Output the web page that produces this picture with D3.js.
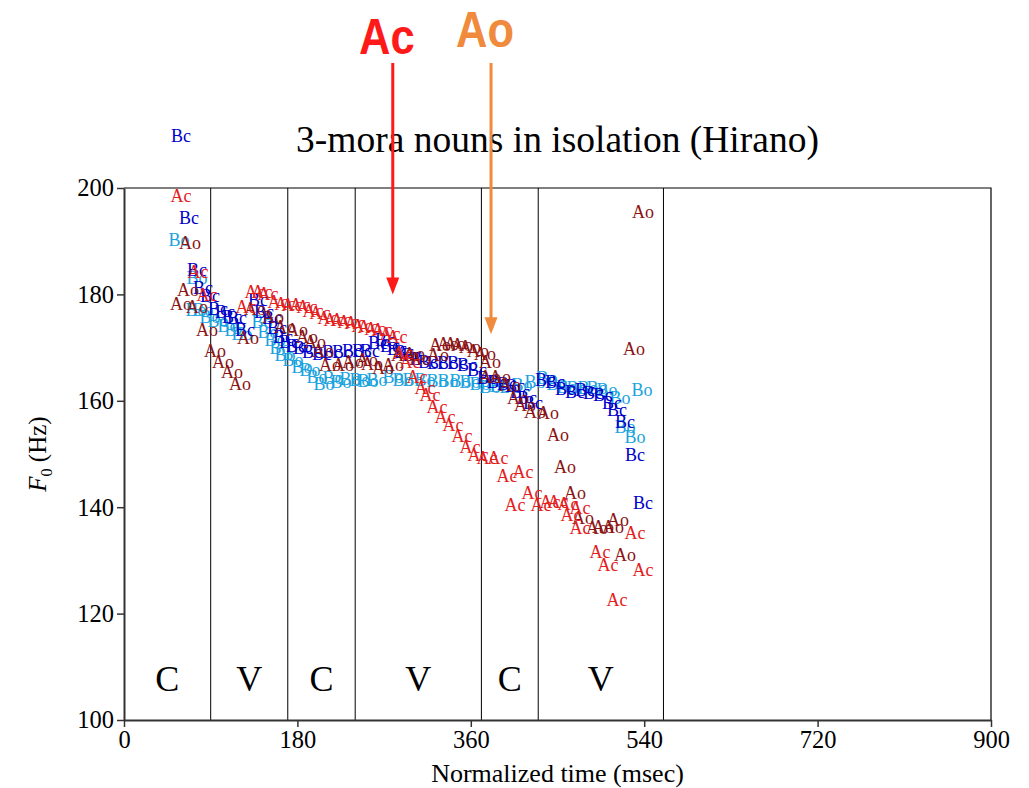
<!DOCTYPE html>
<html>
<head>
<meta charset="utf-8">
<script src="https://cdn.jsdelivr.net/npm/d3@7"></script>
<style>
  html, body { margin: 0; padding: 0; background: #fff; }
  svg { display: block; }
  .serif { font-family: "Liberation Serif", "Times New Roman", serif; }
  .annot { font-family: "Liberation Sans", Arial, sans-serif; font-weight: bold; }
</style>
</head>
<body>
<svg id="chart" width="1029" height="788"></svg>
<script>
// ---------- DATA ----------
const xTicks = [0, 180, 360, 540, 720, 900];
const yTicks = [100, 120, 140, 160, 180, 200];
const segmentBounds = [90, 170, 240, 371, 430, 560];
const segmentLabels = ["C", "V", "C", "V", "C", "V"];
const seriesNames = ["Bo", "Bc", "Ao", "Ac"];
const seriesColors = ["#1ba3de", "#0000c8", "#8b1414", "#e3201c"];

const boPoints = [[57.1,190.2],[75.8,183.1],[74.7,177.1],[82.0,177.1],[89.3,175.8],[97.6,175.0],[108.0,174.2],[115.2,173.3],[122.5,172.7],[143.3,174.8],[149.5,172.9],[156.8,171.4],[161.9,169.9],[167.1,168.6],[175.4,167.7],[184.8,166.5],[193.1,165.8],[200.4,164.5],[207.6,163.3],[217.0,164.3],[225.3,163.5],[234.6,164.1],[245.0,163.9],[253.3,163.7],[262.6,163.9],[279.2,164.5],[289.6,163.9],[300.0,163.9],[312.5,163.9],[324.9,163.7],[336.3,163.7],[348.8,163.7],[359.2,163.5],[369.6,163.3],[380.0,162.6],[390.3,162.8],[400.7,162.6],[413.2,163.0],[426.7,163.5],[439.1,164.3],[449.5,163.3],[459.9,162.6],[470.3,162.4],[481.7,162.4],[491.0,162.4],[501.4,162.0],[514.9,160.5],[520.1,155.1],[530.5,153.2],[537.7,162.0]];

const bcPoints = [[59.2,209.8],[67.5,194.4],[75.8,184.6],[82.0,181.2],[89.3,179.7],[97.6,177.4],[104.8,176.7],[112.1,175.9],[117.3,175.6],[125.6,173.3],[139.1,179.0],[145.3,176.7],[153.6,175.6],[158.8,173.7],[165.1,172.0],[171.3,171.1],[178.6,170.3],[185.8,169.9],[195.2,169.2],[205.5,168.8],[215.9,169.2],[226.3,169.2],[236.7,169.4],[247.1,169.5],[255.4,169.5],[263.7,170.9],[270.9,171.4],[276.1,170.3],[283.4,169.7],[290.7,169.2],[299.0,168.6],[307.3,168.0],[315.6,167.3],[324.9,167.1],[335.3,167.1],[345.7,167.1],[356.1,166.7],[366.4,165.8],[376.8,164.3],[387.2,163.5],[397.6,163.2],[405.9,162.8],[411.1,161.7],[418.4,160.5],[424.6,159.6],[437.0,163.9],[447.4,163.5],[457.8,162.2],[468.2,161.8],[478.6,162.0],[486.9,161.5],[497.2,161.1],[506.6,159.6],[511.8,158.3],[520.1,156.0],[530.5,149.8],[538.8,140.8]];

const aoPoints = [[538.8,195.5],[529.4,169.7],[68.5,189.7],[66.4,180.8],[59.2,178.2],[75.8,177.6],[86.2,173.3],[94.5,169.5],[102.8,167.3],[112.1,165.4],[120.4,163.3],[128.7,171.8],[136.0,177.4],[154.7,175.8],[167.1,173.9],[179.6,173.3],[190.0,172.0],[198.3,171.1],[206.6,169.5],[213.8,166.7],[227.3,166.7],[237.7,167.3],[252.3,167.7],[257.4,166.9],[268.9,166.2],[279.2,166.7],[288.6,168.6],[301.0,168.8],[307.3,168.0],[326.0,168.6],[328.0,170.5],[336.3,170.7],[343.6,170.7],[350.9,170.5],[359.2,170.1],[367.5,169.5],[374.8,168.8],[380.0,167.3],[380.0,164.5],[390.3,164.5],[400.7,163.0],[409.0,160.5],[416.3,159.2],[426.7,157.9],[440.2,157.7],[450.5,153.6],[457.8,147.6],[468.2,142.7],[476.5,138.0],[491.0,136.1],[497.2,136.3],[507.6,136.3],[512.8,137.6],[520.1,131.0]];

const acPoints = [[59.2,198.5],[76.8,184.2],[86.2,179.9],[126.6,177.6],[136.0,180.6],[143.3,180.5],[149.5,180.1],[159.9,178.6],[167.1,178.2],[174.4,178.0],[182.7,178.0],[190.0,177.6],[196.2,176.9],[203.5,176.5],[211.8,175.6],[218.0,175.2],[225.3,175.2],[232.5,174.8],[239.8,174.6],[247.1,174.1],[253.3,173.9],[260.6,173.5],[267.8,173.3],[276.1,172.7],[283.4,172.0],[289.6,169.0],[296.9,167.3],[304.2,164.5],[312.5,162.4],[317.7,161.1],[324.9,158.8],[333.2,157.1],[341.5,155.5],[350.9,153.4],[359.2,151.3],[367.5,149.8],[376.8,149.3],[388.2,149.3],[397.6,145.9],[414.2,146.6],[405.9,140.4],[423.5,142.7],[432.9,140.4],[442.2,141.0],[450.5,141.0],[460.9,140.6],[473.4,140.0],[464.0,138.5],[473.4,136.1],[494.1,131.6],[502.4,129.1],[511.8,122.6],[530.5,135.2],[538.8,128.2]];

const seriesPoints = [boPoints, bcPoints, aoPoints, acPoints];

const annotations = [
  { label: "Ac", time: 279, tipF0: 180.0, color: "#ff1a1a" },
  { label: "Ao", time: 381, tipF0: 172.5, color: "#f08a3c" }
];

const titleText = "3-mora nouns in isolation (Hirano)";
const xLabel = "Normalized time (msec)";

// ---------- LAYOUT ----------
const margin = { left: 124, right: 38, top: 188, bottom: 68 };
const W = 1029, H = 788;
const svg = d3.select("#chart");

const x = d3.scaleLinear().domain([0, 900]).range([margin.left, W - margin.right]);
const y = d3.scaleLinear().domain([100, 200]).range([H - margin.bottom, margin.top]);

const x0 = x.range()[0], x1 = x.range()[1];
const yTop = y.range()[1], yBot = y.range()[0];

// frame (top + right)
svg.append("path")
  .attr("d", `M${x0},${yTop}H${x1}V${yBot}`)
  .attr("fill", "none").attr("stroke", "#000").attr("stroke-width", 1.2);

// segment boundaries
svg.append("g").selectAll("line").data(segmentBounds).join("line")
  .attr("x1", d => x(d)).attr("x2", d => x(d))
  .attr("y1", yTop).attr("y2", yBot)
  .attr("stroke", "#000").attr("stroke-width", 1);

// segment labels
const segEdges = [0, ...segmentBounds];
svg.append("g").selectAll("text").data(segmentLabels).join("text")
  .attr("class", "serif")
  .attr("x", (d, i) => x((segEdges[i] + segEdges[i + 1]) / 2))
  .attr("y", y(105.5))
  .attr("text-anchor", "middle")
  .attr("font-size", 36)
  .attr("fill", "#000")
  .text(d => d);

// axes
const yAxis = svg.append("g").attr("transform", `translate(${x0},0)`)
  .call(d3.axisLeft(y).tickValues(yTicks).tickSize(7).tickPadding(3).tickSizeOuter(0));
const xAxis = svg.append("g").attr("transform", `translate(0,${yBot})`)
  .call(d3.axisBottom(x).tickValues(xTicks).tickSize(7).tickPadding(4).tickSizeOuter(0));
[yAxis, xAxis].forEach(g => {
  g.select(".domain").attr("stroke", "#333").attr("stroke-width", 2);
  g.selectAll(".tick line").attr("stroke", "#333").attr("stroke-width", 1.5);
  g.selectAll(".tick text").attr("class", "serif")
    .style("font-family", "'Liberation Serif', serif").attr("font-size", 24.5).attr("fill", "#000");
});

// axis labels
svg.append("text")
  .attr("class", "serif")
  .attr("x", (x0 + x1) / 2).attr("y", H - 6)
  .attr("text-anchor", "middle").attr("font-size", 26)
  .text(xLabel);

const yl = svg.append("text")
  .attr("class", "serif")
  .attr("transform", `translate(46,${(yTop + yBot) / 2}) rotate(-90)`)
  .attr("text-anchor", "middle").attr("font-size", 25);
yl.append("tspan").attr("font-style", "italic").text("F");
yl.append("tspan").attr("font-size", 16).attr("dy", 6).text("0");
yl.append("tspan").attr("dy", -6).text(" (Hz)");

// title
svg.append("text")
  .attr("class", "serif")
  .attr("x", (x0 + x1) / 2).attr("y", 152)
  .attr("text-anchor", "middle").attr("font-size", 37.5)
  .text(titleText);

// data labels
seriesNames.forEach((name, i) => {
  svg.append("g").selectAll("text").data(seriesPoints[i]).join("text")
    .attr("class", "serif")
    .attr("x", d => x(d[0]))
    .attr("y", d => y(d[1]))
    .attr("dy", "0.35em")
    .attr("text-anchor", "middle")
    .attr("font-size", 18)
    .attr("fill", seriesColors[i])
    .text(name);
});

// annotations with arrows
const arrowTop = 63;
annotations.forEach(a => {
  const ax = x(a.time);
  const tipY = y(a.tipF0);
  const g = svg.append("g");
  g.append("line")
    .attr("x1", ax).attr("x2", ax)
    .attr("y1", arrowTop).attr("y2", tipY - 14)
    .attr("stroke", a.color).attr("stroke-width", 3);
  g.append("path")
    .attr("d", `M${ax - 6.5},${tipY - 17}L${ax + 6.5},${tipY - 17}L${ax},${tipY}Z`)
    .attr("fill", a.color);
  g.append("text")
    .attr("class", "annot")
    .attr("transform", `translate(${ax - 6},${a.label === "Ac" ? 54 : 47}) scale(0.87,1)`)
    .attr("text-anchor", "middle")
    .attr("font-size", 50)
    .attr("fill", a.color)
    .text(a.label);
});
</script>
</body>
</html>
